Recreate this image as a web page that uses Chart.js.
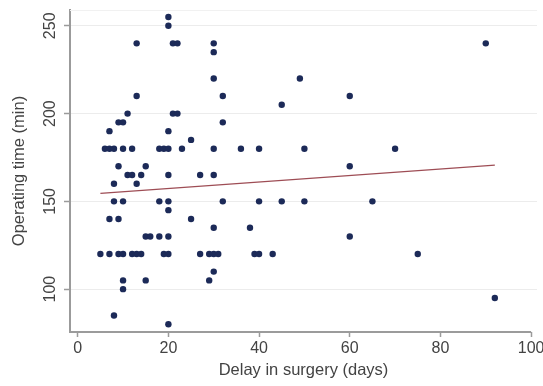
<!DOCTYPE html>
<html>
<head>
<meta charset="utf-8">
<script src="https://cdn.jsdelivr.net/npm/chart.js@4/dist/chart.umd.min.js"></script>
<style>
  html, body { margin: 0; padding: 0; background: #ffffff; }
  canvas { display: block; }
</style>
</head>
<body>
<canvas id="chart" width="543" height="386"></canvas>
<script>
// Delay before surgery (days) and operating time (min), one entry per patient
const delayDays = [
  20, 20,
  13, 21, 22, 30, 90,
  30,
  30, 49,
  13, 32, 60,
  45,
  11, 21, 22,
  9, 10, 32,
  7, 20,
  25,
  6, 7, 8, 10, 12, 18, 19, 20, 23, 30, 36, 40, 50, 70,
  9, 15, 60,
  11, 12, 14, 20, 27, 30,
  8, 13,
  8, 10, 18, 20, 32, 40, 45, 50, 65,
  20,
  7, 9, 25,
  30, 38,
  15, 16, 18, 20, 60,
  5, 7, 9, 10, 12, 13, 14, 19, 20, 27, 29, 30, 31, 39, 40, 43, 75,
  30,
  10, 15, 29,
  10,
  92,
  8,
  20
];
const operatingMin = [
  255, 250,
  240, 240, 240, 240, 240,
  235,
  220, 220,
  210, 210, 210,
  205,
  200, 200, 200,
  195, 195, 195,
  190, 190,
  185,
  180, 180, 180, 180, 180, 180, 180, 180, 180, 180, 180, 180, 180, 180,
  170, 170, 170,
  165, 165, 165, 165, 165, 165,
  160, 160,
  150, 150, 150, 150, 150, 150, 150, 150, 150,
  145,
  140, 140, 140,
  135, 135,
  130, 130, 130, 130, 130,
  120, 120, 120, 120, 120, 120, 120, 120, 120, 120, 120, 120, 120, 120, 120, 120, 120,
  110,
  105, 105, 105,
  100,
  95,
  85,
  80
];

// Fitted linear trend, drawn between its two end points
const fitDays = [5, 92];
const fitMin = [154.5, 170.6];

// Axis ticks
const xTickValues = [0, 20, 40, 60, 80, 100];
const yTickValues = [100, 150, 200, 250];

const pointData = delayDays.map((d, i) => ({ x: d, y: operatingMin[i] }));
const fitData = fitDays.map((d, i) => ({ x: d, y: fitMin[i] }));

const FONT = 'Liberation Sans, Arial, Helvetica, sans-serif';
const TEXT = '#434343';
const AXIS = '#9b9b9b';

// Plot frame: faint top edge, x axis line ending at the last tick, rotated y labels
const frameAndLabels = {
  id: 'frameAndLabels',
  beforeDatasetsDraw(chart) {
    const { ctx, chartArea } = chart;
    ctx.save();
    ctx.strokeStyle = '#f1f1f1';
    ctx.lineWidth = 1;
    ctx.beginPath();
    ctx.moveTo(chartArea.left, chartArea.top + 0.5);
    ctx.lineTo(chartArea.right, chartArea.top + 0.5);
    ctx.stroke();
    ctx.restore();
  },
  afterDraw(chart) {
    const { ctx, chartArea } = chart;
    const xs = chart.scales.x;
    const ys = chart.scales.y;
    ctx.save();
    ctx.strokeStyle = AXIS;
    ctx.lineWidth = 2;
    ctx.beginPath();
    ctx.moveTo(chartArea.left - 1, chartArea.bottom);
    ctx.lineTo(xs.getPixelForValue(xTickValues[xTickValues.length - 1]), chartArea.bottom);
    ctx.stroke();

    ctx.fillStyle = TEXT;
    ctx.font = '16px ' + FONT;
    ctx.textAlign = 'center';
    ctx.textBaseline = 'middle';
    yTickValues.forEach(v => {
      const py = ys.getPixelForValue(v);
      ctx.save();
      ctx.translate(51, py);
      ctx.rotate(-Math.PI / 2);
      ctx.fillText(String(v), 0, 0);
      ctx.restore();
    });
    ctx.restore();
  }
};

new Chart(document.getElementById('chart'), {
  type: 'scatter',
  data: {
    datasets: [
      {
        type: 'line',
        data: fitData,
        borderColor: '#9e4d55',
        borderWidth: 1.2,
        pointRadius: 0,
        fill: false,
        order: 2
      },
      {
        data: pointData,
        backgroundColor: '#1c2a58',
        borderColor: '#1c2a58',
        borderWidth: 0,
        pointRadius: 3.2,
        order: 1
      }
    ]
  },
  options: {
    responsive: false,
    animation: false,
    layout: { padding: { top: 10, right: 6, left: 0, bottom: 0 } },
    plugins: {
      legend: { display: false },
      tooltip: { enabled: false }
    },
    scales: {
      x: {
        type: 'linear',
        min: -1.7,
        max: 101.3,
        afterBuildTicks(scale) { scale.ticks = xTickValues.map(v => ({ value: v })); },
        afterFit(scale) { scale.height = 54; scale.paddingRight = 0; },
        grid: {
          drawOnChartArea: false,
          drawTicks: true,
          tickLength: 5,
          tickColor: AXIS,
          tickWidth: 1.5
        },
        border: { display: false },
        ticks: {
          color: TEXT,
          font: { family: FONT, size: 16 },
          padding: 2,
          maxRotation: 0,
          autoSkip: false
        },
        title: {
          display: true,
          text: 'Delay in surgery (days)',
          color: TEXT,
          font: { family: FONT, size: 16.5 },
          padding: { top: 0, bottom: 6 }
        }
      },
      y: {
        type: 'linear',
        min: 75.6,
        max: 259,
        afterBuildTicks(scale) { scale.ticks = yTickValues.map(v => ({ value: v })); },
        afterFit(scale) { scale.width = 70; },
        grid: {
          color: '#ececec',
          lineWidth: 1,
          drawTicks: true,
          tickLength: 6,
          tickColor: AXIS,
          tickWidth: 1.5
        },
        border: { display: true, color: AXIS, width: 2 },
        ticks: { display: false },
        title: {
          display: true,
          text: 'Operating time (min)',
          color: TEXT,
          font: { family: FONT, size: 16.5 },
          padding: { top: 10, bottom: 0 }
        }
      }
    }
  },
  plugins: [frameAndLabels]
});
</script>
</body>
</html>
